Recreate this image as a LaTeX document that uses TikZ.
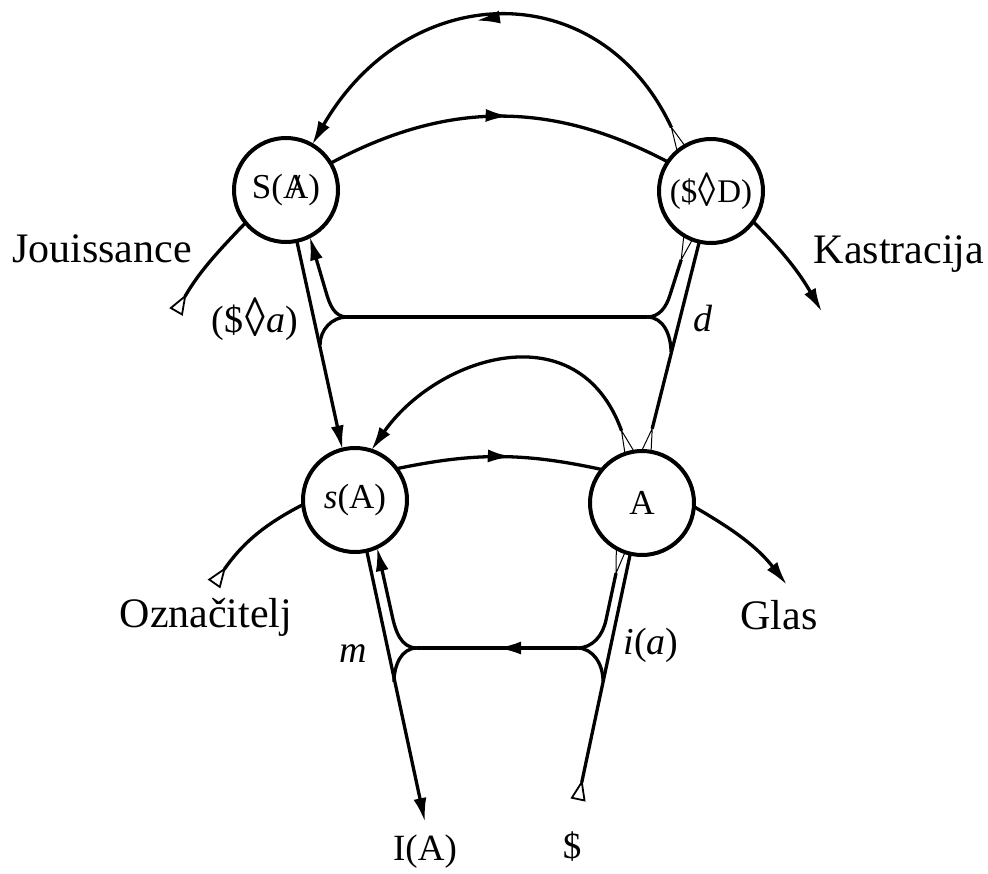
\documentclass[tikz,border=0pt]{standalone}
\usepackage{fontspec}
\usepackage{graphicx}
\setmainfont{Liberation Serif}
\usetikzlibrary{arrows.meta,decorations.markings}
\newcommand{\lozg}{\kern1.5pt\raisebox{-0.12em}{\scalebox{1.05}[1.45]{◊}}\kern1.5pt}
\tikzset{
  myHead/.tip={Latex[length=24pt,width=13pt]},
  myTail/.tip={Triangle[open,reversed,length=21pt,width=15pt,line width=1.8pt]},
  myThin/.tip={Triangle[open,reversed,length=26pt,width=10pt,line width=1pt]},
  ln/.style={line width=3.3pt},
  circ/.style={circle,draw,line width=4pt,minimum size=104pt,inner sep=0pt,outer sep=0pt,font=\fontsize{35}{40}\selectfont},
  big/.style={font=\fontsize{42}{48}\selectfont},
  mid/.style={font=\fontsize{37}{42}\selectfont},
  lab/.style={font=\fontsize{38}{42}\selectfont},
  midarr/.style={postaction={decorate},decoration={markings,mark=at position #1 with {\arrow{myHead}}}},
  midarr/.default=0.5
}
\begin{document}
\begin{tikzpicture}[x=1pt,y=1pt]
\useasboundingbox (0,0) rectangle (988,-873);
% circles
\node[circ] (SA) at (286,-190) {S(\ooalign{A\cr\hidewidth/\hidewidth})};
\node[circ] (SD) at (711,-191) {\fontsize{33}{38}\selectfont(\$\lozg D)};
\node[circ] (sA) at (355,-500) {\textit{s}(A)};
\node[circ] (A) at (642,-503) {A};
% coordinates
\coordinate (JLU) at (347,-317);
\coordinate (JRU) at (647,-317);
\coordinate (JL) at (417,-648);
\coordinate (JR) at (577,-648);
\coordinate (J0) at (176,-312);
\coordinate (O0) at (214,-584);
\coordinate (Kt) at (822,-312);
\coordinate (Gt) at (787,-585);
\coordinate (It) at (425,-822);
\coordinate (St) at (578,-800);
% upper arcs
\draw[ln,myThin-myHead,midarr=0.55] (SD.125) .. controls (600,26) and (408,22) .. (SA.60);
\draw[ln,midarr=0.53] (SA.31) to[bend left=28] (SD.146);
% middle arcs
\draw[ln,myThin-myHead] (A.104) .. controls (578,-310) and (436,-357) .. (sA.72);
\draw[ln,midarr=0.56] (sA.37) to[bend left=12] (A.140);
% upper verticals
\draw[ln,-myHead] (SA.-78) -- (sA.104);
\draw[ln,myThin-] (A.85) -- (SD.-103);
\draw[ln] (JRU) -- (JLU);
\draw[ln,-myHead] (JLU) to[out=180,in=-74] (326,-292) -- (SA.-63);
\draw[ln] (JLU) to[out=180,in=90] (320,-345);
\draw[ln,myThin-] (SD.-116) -- (670,-295) to[out=-107,in=0] (JRU);
\draw[ln] (JRU) to[out=0,in=90] (671,-352);
% lower verticals
\draw[ln,-myHead] (sA.-77) -- (It);
\draw[ln,myTail-] (St) -- (A.-103);
\draw[ln,midarr] (JR) -- (JL);
\draw[ln,-myHead] (JL) to[out=180,in=-78] (392,-615) -- (sA.-65);
\draw[ln] (JL) to[out=180,in=90] (394,-682);
\draw[ln,myThin-] (A.-114) -- (606,-620) to[out=-102,in=0] (JR);
\draw[ln] (JR) to[out=0,in=90] (603,-681);
% side vectors
\draw[ln,myTail-] (J0) to[out=60,in=-134] (SA.-141);
\draw[ln,myTail-] (O0) to[out=55,in=-153] (sA.-175);
\draw[ln,-myHead] (SD.-36) to[out=-45,in=120] (Kt);
\draw[ln,-myHead] (A.-4) to[out=-30,in=128] (Gt);
% labels
\node[big,anchor=base] (tJ) at (102,-262) {Jouissance};
\node[big,anchor=base] (tK) at (899,-263) {Kastracija};
\node[big,anchor=base] (tO) at (206,-627) {Označitelj};
\node[big,anchor=base] (tG) at (779,-629) {Glas};
\node[mid,anchor=base] (tI) at (425,-860) {I(A)};
\node[mid,anchor=base] (tS) at (572,-858) {\$};
\node[lab,anchor=base] (la) at (255,-332) {(\$\lozg\textit{a})};
\node[lab,anchor=base] (ld) at (703,-331) {\textit{d}};
\node[lab,anchor=base] (lm) at (353,-662) {\textit{m}};
\node[lab,anchor=base] (li) at (651,-654) {\textit{i}(\textit{a})};
\end{tikzpicture}
\end{document}
